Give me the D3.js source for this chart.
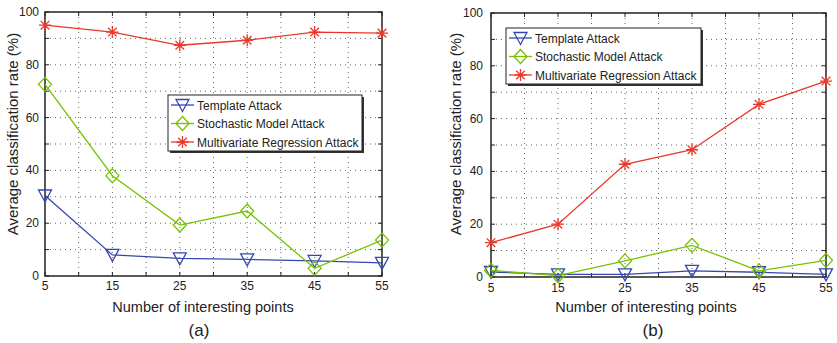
<!DOCTYPE html>
<html>
<head>
<meta charset="utf-8">
<script src="https://cdn.jsdelivr.net/npm/d3@7"></script>
<style>
  body { margin: 0; background: #fff; }
  text { font-family: "Liberation Sans", Arial, sans-serif; fill: #222; }
</style>
</head>
<body>
<svg id="chart" width="837" height="343"></svg>
<script>
// data
var points = [5, 15, 25, 35, 45, 55];
var seriesNames = ["Template Attack", "Stochastic Model Attack", "Multivariate Regression Attack"];

var templateA = [30.5, 8, 6.7, 6.3, 5.7, 5.0];
var stochasticA = [72.6, 38, 19.3, 24.6, 2.9, 13.6];
var regressionA = [95, 92.4, 87.4, 89.3, 92.4, 92];

var templateB = [1.9, 1.0, 1.0, 2.3, 1.8, 1.0];
var stochasticB = [2.5, 0.5, 6.1, 12, 2.3, 6.3];
var regressionB = [13, 20, 42.7, 48.2, 65.4, 74.2];

var xGridTicks = [5, 10, 15, 20, 25, 30, 35, 40, 45, 50, 55];
var yGridTicks = [0, 10, 20, 30, 40, 50, 60, 70, 80, 90, 100];
var yLabelTicks = [0, 20, 40, 60, 80, 100];

var colors = ["#3548b0", "#77c200", "#e8392b"];
var markers = ["tri", "diamond", "star"];

var svg = d3.select("#chart");

function markerPath(type) {
  if (type == "tri") return "M-6.5,-5.5L6.5,-5.5L0,6.5Z";
  if (type == "diamond") return "M0,-7L6.5,0L0,7L-6.5,0Z";
  // asterisk: plus + cross
  return "M-6,0L6,0M0,-6L0,6M-4.3,-4.3L4.3,4.3M-4.3,4.3L4.3,-4.3";
}

function drawPanel(p) {
  var x = d3.scaleLinear().domain([5, 55]).range([p.left, p.right]);
  var y = d3.scaleLinear().domain([0, 100]).range([p.bottom, p.top]);
  var g = svg.append("g");

  // dotted grid
  g.selectAll(".vg").data(xGridTicks.slice(1, -1)).enter().append("line")
    .attr("x1", d => x(d)).attr("x2", d => x(d))
    .attr("y1", p.top).attr("y2", p.bottom)
    .attr("stroke", "#666").attr("stroke-width", 1).attr("stroke-dasharray", "1,4");
  g.selectAll(".hg").data(yGridTicks.slice(1, -1)).enter().append("line")
    .attr("y1", d => y(d)).attr("y2", d => y(d))
    .attr("x1", p.left).attr("x2", p.right)
    .attr("stroke", "#666").attr("stroke-width", 1).attr("stroke-dasharray", "1,4");

  // inner ticks, all four sides
  g.selectAll(".xt").data(xGridTicks).enter().append("path")
    .attr("d", d => "M" + x(d) + "," + p.bottom + "v-4M" + x(d) + "," + p.top + "v4")
    .attr("stroke", "#222").attr("stroke-width", 1);
  g.selectAll(".yt").data(yGridTicks).enter().append("path")
    .attr("d", d => "M" + p.left + "," + y(d) + "h4M" + p.right + "," + y(d) + "h-4")
    .attr("stroke", "#222").attr("stroke-width", 1);

  g.append("rect")
    .attr("x", p.left).attr("y", p.top)
    .attr("width", p.right - p.left).attr("height", p.bottom - p.top)
    .attr("fill", "none").attr("stroke", "#222").attr("stroke-width", 1.5);

  // tick labels
  g.selectAll(".xl").data(points).enter().append("text")
    .attr("x", d => x(d)).attr("y", p.bottom + p.xLabOff)
    .attr("text-anchor", "middle").attr("font-size", "12px")
    .text(d => d);
  g.selectAll(".yl").data(yLabelTicks).enter().append("text")
    .attr("x", p.left - p.yLabOff).attr("y", d => y(d) + 4)
    .attr("text-anchor", "end").attr("font-size", "12px")
    .text(d => d);

  g.append("text")
    .attr("transform", "translate(" + p.yTitleX + ",134) rotate(-90)")
    .attr("text-anchor", "middle").attr("font-size", "15px")
    .text("Average classification rate (%)");
  g.append("text")
    .attr("x", p.xTitleX).attr("y", 312)
    .attr("text-anchor", "middle").attr("font-size", "14.5px")
    .text("Number of interesting points");
  g.append("text")
    .attr("x", p.capX).attr("y", 336)
    .attr("text-anchor", "middle").attr("font-size", "17px")
    .text(p.caption);

  var line = d3.line().x((d, i) => x(points[i])).y(d => y(d));

  p.series.forEach(function(vals, k) {
    g.append("path").datum(vals)
      .attr("d", line)
      .attr("fill", "none").attr("stroke", colors[k]).attr("stroke-width", 1.3);
    g.selectAll(".m" + k).data(vals).enter().append("path")
      .attr("transform", (d, i) => "translate(" + x(points[i]) + "," + y(d) + ")")
      .attr("d", markerPath(markers[k]))
      .attr("fill", "none").attr("stroke", colors[k]).attr("stroke-width", 1.3);
  });

  // legend
  var L = p.legend;
  g.append("rect").attr("x", L.x + 2).attr("y", L.y + 2)
    .attr("width", L.w).attr("height", L.h).attr("fill", "#333");
  g.append("rect").attr("x", L.x).attr("y", L.y)
    .attr("width", L.w).attr("height", L.h)
    .attr("fill", "#fff").attr("stroke", "#222").attr("stroke-width", 1);
  seriesNames.forEach(function(name, k) {
    var ry = L.y + 10 + k * 18.5;
    g.append("line").attr("x1", L.x + 3).attr("x2", L.x + 26)
      .attr("y1", ry).attr("y2", ry)
      .attr("stroke", colors[k]).attr("stroke-width", 1.3);
    g.append("path").attr("transform", "translate(" + (L.x + 14.5) + "," + ry + ")")
      .attr("d", markerPath(markers[k]))
      .attr("fill", "none").attr("stroke", colors[k]).attr("stroke-width", 1.3);
    g.append("text").attr("x", L.x + 29).attr("y", ry + 4.5)
      .attr("font-size", "12px").text(name);
  });
}

drawPanel({
  left: 45, right: 382, top: 12, bottom: 276,
  xLabOff: 14, yLabOff: 6, yTitleX: 18, xTitleX: 203, capX: 199, caption: "(a)",
  series: [templateA, stochasticA, regressionA],
  legend: { x: 168, y: 95, w: 194, h: 56 }
});

drawPanel({
  left: 491, right: 826, top: 13, bottom: 277,
  xLabOff: 15, yLabOff: 8, yTitleX: 461, xTitleX: 646, capX: 653, caption: "(b)",
  series: [templateB, stochasticB, regressionB],
  legend: { x: 506, y: 28, w: 195, h: 56 }
});
</script>
</body>
</html>
